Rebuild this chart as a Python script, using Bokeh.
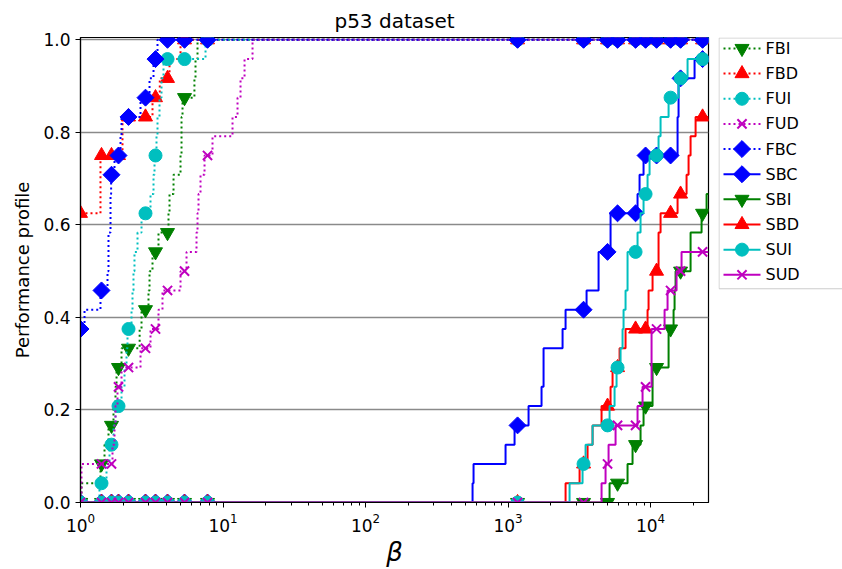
import numpy as np
from bokeh.plotting import figure
from bokeh.layouts import row
from bokeh.models import FixedTicker, Range1d, NumeralTickFormatter
from bokeh.core.properties import value
from bokeh.embed import file_html
from bokeh.resources import INLINE

N_PROBLEMS = 24
BETA_MAX = 25500.0

# beta values at which markers are placed along every profile
MARKER_BETA = [1.0, 1.404, 1.650, 1.848, 2.172, 2.858, 3.360, 4.079, 5.369, 7.785,
               1166, 3387, 4990, 5866, 7848, 9225, 11020, 13816, 16240, 23170]

# each profile: beta where the number of solved problems changes, and that number
FBI_BETA = [1.0, 1.016, 1.381, 1.474, 1.572, 1.704, 1.760, 1.79, 1.940, 2.60, 2.680, 3.00,
            3.050, 3.201, 3.526, 4.145, 4.213, 4.495, 5.033, 5.115, 5.198, 6.30, 6.412, 6.623]
FBI_SOLVED = [0, 1, 2, 3, 4, 5, 6, 7, 8, 9, 10, 11, 12, 13, 14, 15, 16, 17, 18, 20, 21, 22, 23, 24]

FBD_BETA = [1.0, 1.381, 1.971, 3.201, 3.60, 4.213, 5.033]
FBD_SOLVED = [15, 18, 20, 21, 22, 23, 24]

FUI_BETA = [1.0, 1.359, 1.522, 1.598, 1.704, 1.760, 1.940, 2.036, 2.103, 2.137, 2.280, 2.317,
            2.354, 2.392, 2.512, 2.680, 3.099, 3.253, 3.306, 3.414, 3.470, 3.584, 3.701, 3.823, 7.539]
FUI_SOLVED = [0, 1, 2, 3, 4, 5, 6, 7, 8, 9, 10, 11, 12, 13, 14, 15, 16, 17, 18, 19, 20, 21, 22, 23, 24]

FUD_BETA = [1.0, 1.016, 1.677, 1.732, 1.760, 1.818, 1.940, 2.637, 3.099, 3.526, 3.761, 5.033,
            5.545, 6.516, 6.623, 6.731, 6.952, 7.418, 8.438, 11.66, 12.64, 13.27, 14.16, 16.11]
FUD_SOLVED = [0, 2, 3, 4, 5, 6, 7, 8, 9, 10, 11, 12, 13, 14, 15, 16, 17, 18, 19, 20, 21, 22, 23, 24]

FBC_BETA = [1.0, 1.067, 1.381, 1.547, 1.572, 1.624, 1.640, 1.732, 1.909, 1.940, 2.637, 3.050, 3.253, 3.470]
FBC_SOLVED = [9, 10, 11, 12, 14, 16, 17, 18, 19, 20, 21, 22, 23, 24]

SBC_BETA = [1.0, 563.6, 572.7, 960.5, 1111, 1393, 1718, 1775, 2413, 2533, 3556, 4317, 5240,
            8103, 8371, 8929, 15470, 15720, 20360]
SBC_SOLVED = [0, 1, 2, 3, 4, 5, 6, 8, 9, 10, 11, 13, 15, 16, 17, 18, 20, 22, 23]

SBI_BETA = [1.0, 5157, 6895, 7474, 8507, 8929, 10328, 13380, 14503, 14740, 14980, 19090, 22800, 24720]
SBI_SOLVED = [0, 1, 2, 3, 4, 5, 7, 9, 10, 11, 12, 14, 15, 16]

SBD_BETA = [1.0, 2533, 3176, 3614, 3918, 4531, 5240, 5412, 6060, 6676, 9526, 9683, 10328,
            11378, 11755, 15470, 17890, 18480, 19090, 20700]
SBD_SOLVED = [0, 1, 2, 3, 4, 5, 6, 7, 8, 9, 10, 11, 12, 14, 15, 16, 17, 18, 19, 20]

SUI_BETA = [1.0, 2702, 3333, 3499, 3918, 5157, 5590, 5773, 6159, 6360, 6464, 6676, 6895,
            8103, 8507, 8929, 9526, 9840, 11378, 11755, 13380, 15720, 18180]
SUI_SOLVED = [0, 1, 2, 3, 4, 5, 6, 7, 8, 9, 10, 11, 13, 14, 15, 16, 17, 18, 19, 20, 21, 22, 23]

SUD_BETA = [1.0, 4531, 4833, 5074, 5681, 8103, 8786, 10162, 12540, 13160, 15220, 16500]
SUD_SOLVED = [0, 1, 2, 3, 4, 5, 6, 9, 10, 11, 12, 13]

GREEN, RED, CYAN, MAGENTA, BLUE = "#008000", "#ff0000", "#00bfbf", "#bf00bf", "#0000ff"
DOTTED = "2 3"

SERIES = [
    ("FBI", FBI_BETA, FBI_SOLVED, GREEN, DOTTED, "inverted_triangle"),
    ("FBD", FBD_BETA, FBD_SOLVED, RED, DOTTED, "triangle"),
    ("FUI", FUI_BETA, FUI_SOLVED, CYAN, DOTTED, "circle"),
    ("FUD", FUD_BETA, FUD_SOLVED, MAGENTA, DOTTED, "x"),
    ("FBC", FBC_BETA, FBC_SOLVED, BLUE, DOTTED, "diamond"),
    ("SBC", SBC_BETA, SBC_SOLVED, BLUE, "solid", "diamond"),
    ("SBI", SBI_BETA, SBI_SOLVED, GREEN, "solid", "inverted_triangle"),
    ("SBD", SBD_BETA, SBD_SOLVED, RED, "solid", "triangle"),
    ("SUI", SUI_BETA, SUI_SOLVED, CYAN, "solid", "circle"),
    ("SUD", SUD_BETA, SUD_SOLVED, MAGENTA, "solid", "x"),
]

FONT = "DejaVu Sans"
FIG_H = 569
BORDER_TOP, BORDER_BOTTOM = 37, 66
MAIN_W, LEG_W = 718, 124


def draw_markers(fig, xs, ys, color, marker):
    """Draw one series' markers with matplotlib-like shapes."""
    if marker == "diamond":
        fig.scatter(xs, ys, marker="square", angle=np.pi / 4, size=12,
                    fill_color=color, line_color=color, line_width=1)
    elif marker == "x":
        fig.scatter(xs, ys, marker="x", size=13, line_color=color, line_width=2)
    else:
        fig.scatter(xs, ys, marker=marker, size=13 if marker == "circle" else 14,
                    fill_color=color, line_color=color, line_width=1)


# ---- main performance-profile plot ----
p = figure(width=MAIN_W, height=FIG_H, x_axis_type="log",
           x_range=Range1d(1.0, BETA_MAX), y_range=Range1d(0.0, 1.005),
           output_backend="svg", toolbar_location=None,
           min_border_left=80, min_border_right=10,
           min_border_top=BORDER_TOP, min_border_bottom=BORDER_BOTTOM)

p.title.text = "p53 dataset"
p.title.align = "center"
p.title.offset = 17
p.title.text_font = FONT
p.title.text_font_size = "20px"
p.title.text_font_style = "normal"
p.title.text_color = "black"

p.outline_line_color = "black"
p.outline_line_width = 1.2
p.xgrid.visible = False
p.ygrid.grid_line_color = "#8a8a8a"
p.ygrid.grid_line_width = 1.3

p.yaxis.ticker = FixedTicker(ticks=[0.0, 0.2, 0.4, 0.6, 0.8, 1.0])
p.yaxis.formatter = NumeralTickFormatter(format="0.0")
p.yaxis.minor_tick_line_color = None

for ax in (p.xaxis[0], p.yaxis[0]):
    ax.axis_line_color = "black"
    ax.axis_line_width = 1.2
    ax.major_tick_in = 0
    ax.major_tick_out = 5
    ax.minor_tick_in = 0
    ax.minor_tick_out = 3
    ax.major_label_text_font = FONT
    ax.major_label_text_font_size = "17px"
    ax.major_label_text_color = "black"
    ax.axis_label_text_font = FONT
    ax.axis_label_text_color = "black"

p.xaxis.axis_label = "β"
p.xaxis.axis_label_text_font_size = "26px"
p.xaxis.axis_label_text_font_style = "italic"
p.xaxis.axis_label_standoff = 2
p.yaxis.axis_label = "Performance profile"
p.yaxis.axis_label_text_font_size = "18px"
p.yaxis.axis_label_text_font_style = "normal"
p.yaxis.axis_label_standoff = 7

for name, beta, solved, color, dash, marker in SERIES:
    beta_arr = np.asarray(beta, dtype=float)
    frac = np.asarray(solved, dtype=float) / N_PROBLEMS
    xs = list(beta_arr) + [BETA_MAX]
    ys = list(frac) + [frac[-1]]
    p.step(xs, ys, mode="after", line_color=color, line_width=2, line_dash=dash)

    mx = np.asarray(MARKER_BETA, dtype=float)
    idx = np.searchsorted(beta_arr, mx, side="right") - 1
    draw_markers(p, mx, frac[idx], color, marker)

# ---- legend panel beside the axes; its ranges are in page pixels ----
BOX_TOP, ROW0, ROW_STEP = 37.5, 48, 25.2
KEY_X0, KEY_X1, LABEL_X = 723, 760, 765

lf = figure(width=LEG_W, height=FIG_H,
            x_range=Range1d(MAIN_W, MAIN_W + LEG_W),
            y_range=Range1d(FIG_H - BORDER_BOTTOM, BORDER_TOP),
            output_backend="svg", toolbar_location=None,
            x_axis_location=None, y_axis_location=None,
            min_border_left=0, min_border_right=0,
            min_border_top=BORDER_TOP, min_border_bottom=BORDER_BOTTOM)
lf.grid.visible = False
lf.outline_line_color = None

n_rows = len(SERIES)
box_bottom = ROW0 + (n_rows - 1) * ROW_STEP + 14
lf.quad(left=[MAIN_W + 0.5], right=[MAIN_W + LEG_W + 10], top=[BOX_TOP], bottom=[box_bottom],
        fill_color="white", fill_alpha=0.8, line_color="#cccccc", line_width=1)

for i, (name, beta, solved, color, dash, marker) in enumerate(SERIES):
    yc = ROW0 + i * ROW_STEP
    lf.line([KEY_X0, KEY_X1], [yc, yc], line_color=color, line_width=2, line_dash=dash)
    draw_markers(lf, [(KEY_X0 + KEY_X1) / 2], [yc], color, marker)
    lf.text([LABEL_X], [yc], text=[name], text_baseline="middle", text_align="left",
            text_font=value(FONT), text_font_size="16px", text_color="black")

open("out.html", "w").write(file_html(row(p, lf), INLINE))
